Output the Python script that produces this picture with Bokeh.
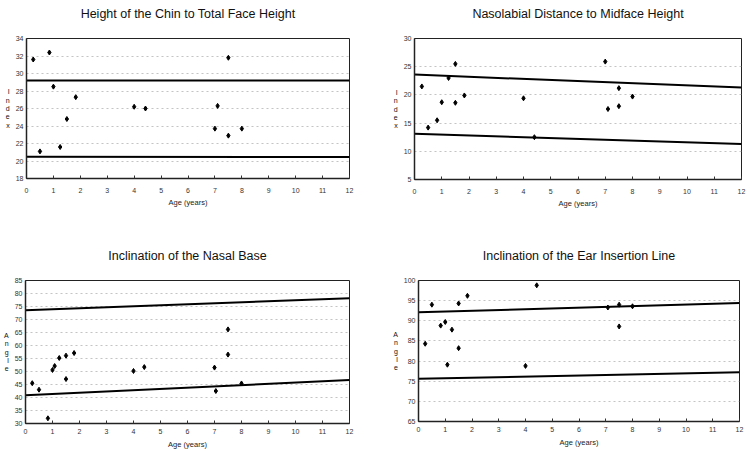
from bokeh.plotting import figure
from bokeh.layouts import column, row
from bokeh.models import Range1d, FixedTicker, LinearAxis
from bokeh.embed import file_html
from bokeh.resources import INLINE

# ---- data ----
line_age = [0, 12]

chin_age = [0.25, 0.85, 0.5, 1.0, 1.25, 1.5, 1.83, 4.0, 4.42, 7.1, 7.0, 7.5, 7.5, 8.0]
chin_index = [31.6, 32.4, 21.1, 28.5, 21.6, 24.8, 27.3, 26.2, 26.0, 26.3, 23.7, 31.8, 22.9, 23.7]
chin_upper = [29.2, 29.2]
chin_lower = [20.5, 20.45]

naso_age = [0.27, 0.5, 0.83, 1.0, 1.25, 1.5, 1.5, 1.83, 4.0, 4.4, 7.0, 7.1, 7.5, 7.5, 8.0]
naso_index = [21.5, 14.2, 15.5, 18.7, 23.0, 25.5, 18.6, 19.9, 19.4, 12.5, 25.9, 17.5, 21.2, 18.0, 19.7]
naso_upper = [23.6, 21.3]
naso_lower = [13.1, 11.3]

nasal_age = [0.25, 0.5, 0.83, 1.0, 1.08, 1.25, 1.5, 1.5, 1.8, 4.0, 4.4, 7.0, 7.05, 7.5, 7.5, 8.0]
nasal_angle = [45.5, 43.0, 32.0, 50.6, 52.1, 55.2, 56.1, 47.1, 57.1, 50.2, 51.7, 51.5, 42.5, 66.2, 56.5, 45.4]
nasal_upper = [73.6, 78.2]
nasal_lower = [40.9, 46.7]

ear_age = [0.25, 0.5, 0.83, 1.0, 1.08, 1.25, 1.5, 1.5, 1.83, 4.0, 4.42, 7.08, 7.5, 7.5, 8.0]
ear_angle = [84.3, 94.0, 88.8, 89.7, 79.1, 87.8, 94.3, 83.2, 96.2, 78.8, 98.8, 93.3, 94.0, 88.6, 93.6]
ear_upper = [92.1, 94.4]
ear_lower = [75.6, 77.2]

x_ticks = list(range(0, 13))
FONT = "Liberation Sans"


def make_fig(title, xs, ys, upper, lower, y0, y1, ystep, ylabel,
             bl, bt, bb, br, fw, fh, tick_standoff, label_standoff):
    p = figure(frame_width=fw, frame_height=fh,
               x_range=Range1d(0, 12), y_range=Range1d(y0, y1),
               output_backend="svg", toolbar_location=None,
               min_border_left=bl, min_border_top=bt,
               min_border_bottom=bb, min_border_right=br)

    # chart title, carried by a tick-less axis above the frame
    title_axis = LinearAxis(ticker=FixedTicker(ticks=[]), axis_label=title,
                            axis_line_color=None,
                            major_tick_in=0, major_tick_out=0,
                            minor_tick_in=0, minor_tick_out=0,
                            major_tick_line_color=None,
                            minor_tick_line_color=None,
                            major_label_standoff=0,
                            axis_label_standoff=18,
                            axis_label_text_font=FONT,
                            axis_label_text_font_size="12.5px",
                            axis_label_text_font_style="normal",
                            axis_label_text_color="#111111")
    p.add_layout(title_axis, "above")

    p.outline_line_color = "#222222"
    p.outline_line_width = 1
    p.background_fill_color = "white"
    p.border_fill_color = "white"

    p.xgrid.visible = False
    p.ygrid.grid_line_color = "#b5b5b5"
    p.ygrid.grid_line_dash = "2 3"
    p.ygrid.grid_line_alpha = 0.8
    p.ygrid.grid_line_width = 1

    xaxis = p.below[0]
    yaxis = p.left[0]
    xaxis.ticker = FixedTicker(ticks=x_ticks)
    yaxis.ticker = FixedTicker(ticks=list(range(y0, y1 + 1, ystep)))
    for ax in (xaxis, yaxis):
        ax.axis_line_color = "#222222"
        ax.axis_line_width = 1.5
        ax.major_label_text_font = FONT
        ax.major_label_text_font_size = "7px"
        ax.major_label_text_color = "#333333"
        ax.minor_tick_line_color = None
        ax.axis_label_text_font = FONT
        ax.axis_label_text_font_style = "normal"
        ax.axis_label_text_color = "#222222"
    xaxis.major_tick_in = 3
    xaxis.major_tick_out = 0
    xaxis.major_tick_line_color = "#333333"
    xaxis.major_label_standoff = tick_standoff
    xaxis.axis_label = "Age (years)"
    xaxis.axis_label_text_font_size = "7.5px"
    xaxis.axis_label_standoff = label_standoff

    yaxis.major_tick_in = 0
    yaxis.major_tick_out = 0
    yaxis.major_label_standoff = 3
    yaxis.axis_label = "\n".join(ylabel)
    yaxis.axis_label_orientation = "horizontal"
    yaxis.axis_label_text_font_size = "7px"
    yaxis.axis_label_text_line_height = 1.2
    yaxis.axis_label_text_color = "#111111"
    yaxis.axis_label_standoff = 3

    p.line(line_age, upper, line_color="black", line_width=2)
    p.line(line_age, lower, line_color="black", line_width=2)
    p.scatter(xs, ys, marker="diamond", size=5, fill_color="black",
              line_color="black")
    return p


p1 = make_fig("Height of the Chin to Total Face Height", chin_age, chin_index,
              chin_upper, chin_lower, 18, 34, 2, "Index",
              26, 38, 47, 26, 323, 140, 9, 2)
p2 = make_fig("Nasolabial Distance to Midface Height", naso_age, naso_index,
              naso_upper, naso_lower, 5, 30, 5, "Index",
              39, 38, 46, 9, 327, 141, 9, 2)
p3 = make_fig("Inclination of the Nasal Base", nasal_age, nasal_angle,
              nasal_upper, nasal_lower, 30, 85, 5, "Angle",
              25, 55, 28, 26, 324, 143, 5, 3)
p4 = make_fig("Inclination of the Ear Insertion Line", ear_age, ear_angle,
              ear_upper, ear_lower, 65, 100, 5, "Angle",
              43, 53, 31, 11, 321, 141, 5, 3)

layout = column(row(p1, p2), row(p3, p4))

open("out.html", "w").write(file_html(layout, INLINE))
